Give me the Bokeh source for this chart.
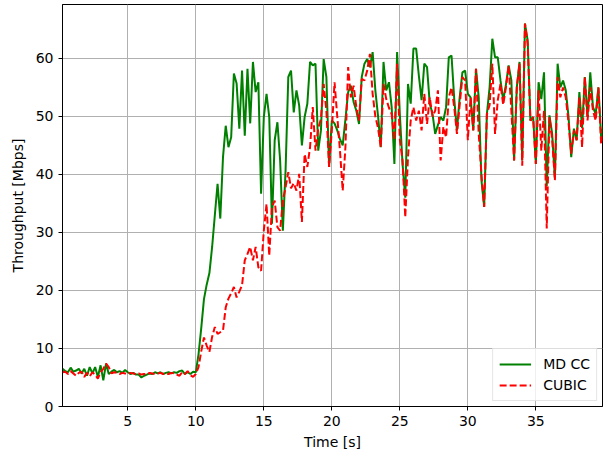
from bokeh.plotting import figure
from bokeh.models import Range1d, FixedTicker, ColumnDataSource, Legend, LegendItem
from bokeh.embed import file_html
from bokeh.resources import INLINE

# Sampling instants (s), one every 0.2 s
time_s = [round(0.2 * k, 1) for k in range(1, 201)]

# Throughput of the MD CC flow (Mbps)
md_cc = [
    6.5, 6.1, 5.9, 6.7, 6.0, 6.2, 6.5, 5.7, 6.5, 5.3,
    6.8, 5.7, 6.8, 5.1, 7.1, 4.5, 7.4, 5.6, 6.0, 6.3,
    5.9, 6.1, 5.8, 6.3, 5.9, 5.6, 5.8, 5.5, 5.5, 5.0,
    5.3, 5.5, 5.7, 5.6, 5.9, 5.7, 5.9, 5.6, 5.8, 5.9,
    5.7, 5.9, 5.8, 6.1, 6.2, 5.6, 5.9, 5.6, 6.0, 5.9,
    9.0, 13.5, 18.5, 21.0, 23.0, 27.5, 33.0, 38.4, 32.4, 43.0,
    48.4, 44.7, 46.4, 57.4, 55.7, 47.9, 57.9, 46.7, 58.2, 48.8,
    59.4, 54.2, 55.9, 36.7, 49.9, 53.9, 49.9, 31.5, 45.9, 49.0,
    42.4, 30.3, 40.7, 56.8, 57.9, 50.7, 54.5, 51.9, 45.0, 49.9,
    52.2, 59.4, 58.8, 59.1, 44.1, 47.6, 59.9, 56.8, 41.3, 49.3,
    48.8, 47.6, 46.1, 45.0, 49.5, 54.2, 55.3, 52.5, 51.0, 48.7,
    56.8, 59.1, 59.9, 58.5, 61.1, 54.5, 50.0, 44.7, 59.4, 54.5,
    55.9, 51.6, 41.8, 61.1, 50.4, 41.8, 36.0, 55.6, 52.2, 61.7,
    61.7, 57.0, 52.8, 59.1, 58.5, 52.2, 50.5, 47.0, 48.5, 49.9,
    49.3, 51.6, 60.2, 60.5, 53.0, 47.6, 53.3, 57.6, 57.9, 53.9,
    53.3, 47.6, 58.2, 53.3, 39.0, 34.4, 50.4, 55.0, 63.4, 60.2,
    60.2, 56.2, 52.8, 55.5, 58.8, 56.2, 42.4, 55.0, 59.4, 42.4,
    66.0, 63.1, 49.3, 49.9, 41.8, 55.9, 53.0, 57.6, 38.0, 50.2,
    47.0, 39.3, 59.1, 55.0, 56.2, 54.5, 50.0, 43.0, 47.9, 45.9,
    54.2, 48.0, 56.8, 49.9, 57.6, 51.6, 50.4, 55.0, 46.4, 48.7,
]

# Throughput of the CUBIC flow (Mbps)
cubic = [
    5.9, 6.0, 5.6, 6.1, 5.7, 5.3, 5.8, 6.0, 5.1, 5.8,
    5.2, 5.9, 5.5, 4.8, 5.9, 6.5, 7.4, 6.8, 5.7, 5.9,
    5.8, 5.6, 5.8, 5.7, 5.6, 5.8, 5.7, 5.6, 5.7, 5.5,
    5.6, 5.5, 5.8, 5.7, 5.6, 5.7, 5.8, 5.6, 5.7, 5.6,
    5.8, 5.7, 5.5, 5.3, 5.9, 5.6, 6.1, 5.4, 5.1, 5.6,
    6.8, 9.5, 11.9, 10.5, 9.4, 12.0, 13.7, 12.5, 12.8, 13.1,
    17.1, 18.6, 19.5, 20.6, 18.8, 19.8, 20.9, 25.2, 26.3, 27.5,
    25.2, 27.5, 24.0, 23.4, 30.3, 34.9, 26.0, 34.4, 35.5, 30.9,
    30.3, 35.5, 37.8, 40.4, 37.6, 38.5, 37.2, 40.1, 31.8, 43.5,
    41.3, 44.7, 51.6, 44.1, 47.9, 49.6, 55.6, 51.0, 41.3, 47.6,
    55.9, 50.0, 44.1, 37.2, 44.7, 58.5, 53.3, 55.3, 51.6, 49.3,
    56.5, 56.2, 57.9, 60.8, 53.9, 50.0, 48.0, 44.7, 55.6, 53.0,
    51.5, 50.4, 45.9, 59.1, 46.0, 42.4, 32.6, 43.0, 49.3, 51.6,
    49.3, 51.0, 47.6, 53.9, 48.7, 53.3, 50.0, 51.0, 54.5, 42.4,
    48.2, 46.4, 53.3, 55.0, 51.6, 47.0, 52.0, 56.8, 56.2, 45.9,
    53.3, 47.6, 58.2, 47.0, 40.0, 34.4, 50.4, 52.0, 59.1, 47.0,
    52.8, 55.6, 52.0, 55.0, 58.8, 51.0, 42.4, 55.0, 59.1, 41.5,
    66.0, 62.5, 49.3, 49.9, 41.8, 54.5, 44.1, 51.0, 30.7, 49.9,
    46.0, 39.0, 56.8, 53.3, 55.0, 53.3, 49.0, 43.6, 47.6, 45.9,
    53.3, 44.7, 56.8, 49.3, 55.0, 51.0, 49.3, 55.0, 45.3, 47.0,
]

x_ticks = [5, 10, 15, 20, 25, 30, 35]
y_ticks = [0, 10, 20, 30, 40, 50, 60]

src = ColumnDataSource(dict(t=time_s, md=md_cc, cubic=cubic))

FONT = "DejaVu Sans"

p = figure(
    width=611, height=455,
    output_backend="svg", toolbar_location=None,
    x_range=Range1d(0.2, 39.9), y_range=Range1d(0, 69.3),
    min_border_left=62, min_border_right=9,
    min_border_top=4, min_border_bottom=49,
    background_fill_color="white", border_fill_color="white",
)
p.outline_line_color = "black"
p.outline_line_width = 1

r_md = p.line("t", "md", source=src, line_color="#008000", line_width=2)
r_cu = p.line("t", "cubic", source=src, line_color="#ff0000", line_width=2,
              line_dash="7 3")

for ax in (p.xaxis[0], p.yaxis[0]):
    ax.axis_line_color = "black"
    ax.major_tick_line_color = "black"
    ax.major_tick_out = 4
    ax.major_tick_in = 0
    ax.minor_tick_line_color = None
    ax.major_label_text_font = FONT
    ax.major_label_text_font_size = "14px"
    ax.major_label_text_color = "black"
    ax.axis_label_text_font = FONT
    ax.axis_label_text_font_size = "14px"
    ax.axis_label_text_font_style = "normal"
    ax.axis_label_text_color = "black"
    ax.major_label_standoff = 5

p.xaxis.ticker = FixedTicker(ticks=x_ticks)
p.yaxis.ticker = FixedTicker(ticks=y_ticks)
p.xaxis.axis_label = "Time [s]"
p.yaxis.axis_label = "Throughput [Mbps]"
p.xaxis.axis_label_standoff = 5
p.yaxis.axis_label_standoff = 7

p.grid.grid_line_color = "#b0b0b0"
p.grid.grid_line_width = 1

legend = Legend(
    items=[LegendItem(label="MD CC", renderers=[r_md]),
           LegendItem(label="CUBIC", renderers=[r_cu])],
    location="bottom_right",
    label_text_font=FONT, label_text_font_size="14px", label_text_color="black",
    glyph_width=32, glyph_height=18, label_height=18,
    label_standoff=12, spacing=3, padding=6, margin=5,
    border_line_color="#cccccc", border_line_width=1,
    background_fill_color="white", background_fill_alpha=0.8,
)
p.add_layout(legend)

open("out.html", "w").write(file_html(p, INLINE))
